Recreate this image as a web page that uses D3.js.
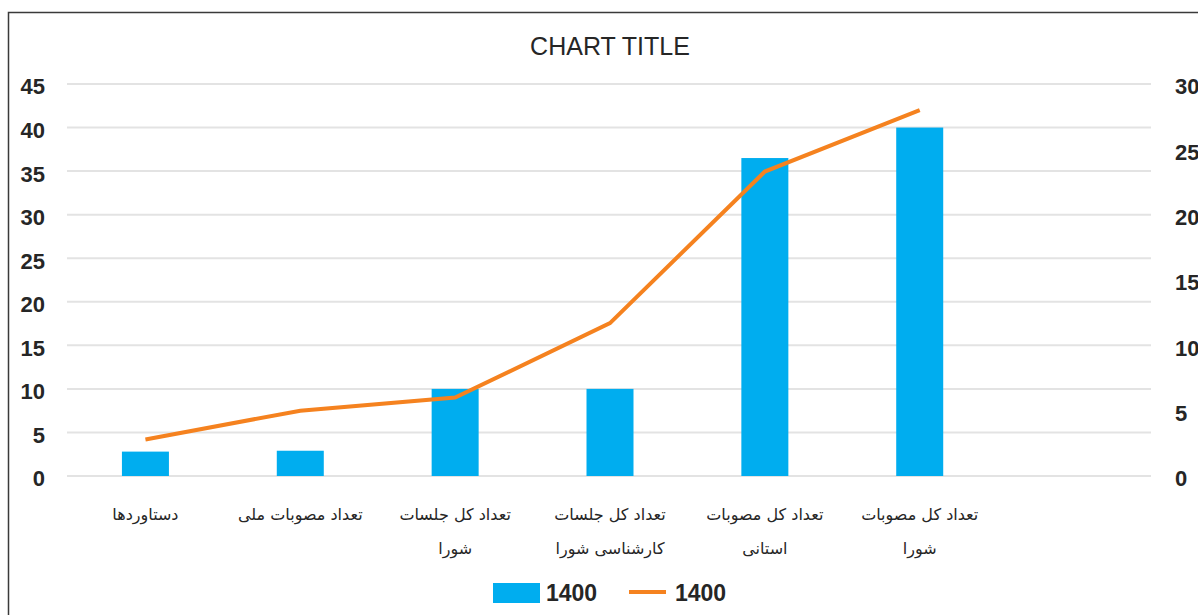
<!DOCTYPE html>
<meta charset="utf-8">
<style>
    body { margin: 0; background: #fff; }
    .tick text { font: bold 22px "Liberation Sans", Arial, sans-serif; fill: #262626; }
    .cat { font: 16px "DejaVu Sans", sans-serif; fill: #262626; }
</style>
<script src="https://cdn.jsdelivr.net/npm/d3@7"></script>
<body>
<script>
// categories (last slot is empty in the original)
var categories = ["دستاوردها", "تعداد مصوبات ملی", "تعداد کل جلسات شورا", "تعداد کل جلسات کارشناسی شورا", "تعداد کل مصوبات استانی", "تعداد کل مصوبات شورا", ""];
var labelLines = [["دستاوردها"], ["تعداد مصوبات ملی"], ["تعداد کل جلسات", "شورا"], ["تعداد کل جلسات", "کارشناسی شورا"], ["تعداد کل مصوبات", "استانی"], ["تعداد کل مصوبات", "شورا"], []];
var barValues = [2.8, 2.9, 10, 10, 36.5, 40];
var lineValues = [2.8, 5, 6, 11.7, 23.3, 28];
var leftTicks = [0, 5, 10, 15, 20, 25, 30, 35, 40, 45];
var rightTicks = [0, 5, 10, 15, 20, 25, 30];

var width = 1198, height = 615;
var svg = d3.select("body").append("svg")
    .attr("width", width)
    .attr("height", height);

// chart frame (cropped on the right and bottom)
svg.append("rect")
    .attr("x", 8.5).attr("y", 12.5)
    .attr("width", 1300).attr("height", 700)
    .attr("fill", "#fff")
    .attr("stroke", "#3a3a3a")
    .attr("stroke-width", 1.5);

var plotLeft = 67, plotRight = 1151, plotTop = 84, plotBottom = 476;

var x = d3.scaleBand().domain(categories.map(function(d, i) { return i; }))
    .range([plotLeft + 1, plotRight + 1]);
var yL = d3.scaleLinear().domain([0, 45]).range([plotBottom, plotTop]);
var yR = d3.scaleLinear().domain([0, 30]).range([plotBottom, plotTop]);

// gridlines
svg.append("g").selectAll("line")
    .data(leftTicks)
    .enter().append("line")
    .attr("x1", plotLeft).attr("x2", plotRight)
    .attr("y1", function(d) { return yL(d); })
    .attr("y2", function(d) { return yL(d); })
    .attr("stroke", "#e3e3e3")
    .attr("stroke-width", 2);

// axes
var axL = svg.append("g")
    .attr("transform", "translate(" + (plotLeft - 22) + ",0)")
    .call(d3.axisLeft(yL).tickValues(leftTicks).tickSize(0).tickPadding(0));
axL.select(".domain").remove();
axL.selectAll(".tick text").attr("dy", "0.45em");

var axR = svg.append("g")
    .attr("transform", "translate(" + (plotRight + 24) + ",0)")
    .call(d3.axisRight(yR).tickValues(rightTicks).tickSize(0).tickPadding(0));
axR.select(".domain").remove();
axR.selectAll(".tick text").attr("dy", "0.45em");

// bars
var bw = 47;
svg.append("g").selectAll("rect")
    .data(barValues)
    .enter().append("rect")
    .attr("x", function(d, i) { return x(i) + x.bandwidth() / 2 - bw / 2; })
    .attr("y", function(d) { return yL(d); })
    .attr("width", bw)
    .attr("height", function(d) { return plotBottom - yL(d); })
    .attr("fill", "#00ADEF");

// line
var line = d3.line()
    .x(function(d, i) { return x(i) + x.bandwidth() / 2; })
    .y(function(d) { return yR(d); });
svg.append("path")
    .datum(lineValues)
    .attr("d", line)
    .attr("fill", "none")
    .attr("stroke", "#F5821F")
    .attr("stroke-width", 4);

// category labels
var cat = svg.append("g").selectAll("text")
    .data(labelLines)
    .enter().append("text")
    .attr("class", "cat")
    .attr("text-anchor", "middle")
    .attr("direction", "rtl")
    .attr("x", function(d, i) { return x(i) + x.bandwidth() / 2; })
    .attr("y", 520);
cat.selectAll("tspan")
    .data(function(d, i) { return d.map(function(t) { return { t: t, i: i }; }); })
    .enter().append("tspan")
    .attr("x", function(d) { return x(d.i) + x.bandwidth() / 2; })
    .attr("dy", function(d, j) { return j === 0 ? 0 : 34; })
    .text(function(d) { return d.t; });

// title
svg.append("text")
    .attr("x", 610).attr("y", 55)
    .attr("text-anchor", "middle")
    .style("font", "25px 'Liberation Sans', Arial, sans-serif")
    .style("fill", "#262626")
    .text("CHART TITLE");

// legend
var lg = svg.append("g");
lg.append("rect").attr("x", 493).attr("y", 583).attr("width", 47).attr("height", 20).attr("fill", "#00ADEF");
lg.append("text").attr("x", 546).attr("y", 601).style("font", "bold 23px 'Liberation Sans', Arial, sans-serif").style("fill", "#262626").text("1400");
lg.append("line").attr("x1", 629).attr("x2", 666).attr("y1", 592).attr("y2", 592).attr("stroke", "#F5821F").attr("stroke-width", 4);
lg.append("text").attr("x", 675).attr("y", 601).style("font", "bold 23px 'Liberation Sans', Arial, sans-serif").style("fill", "#262626").text("1400");
</script>
</body>
